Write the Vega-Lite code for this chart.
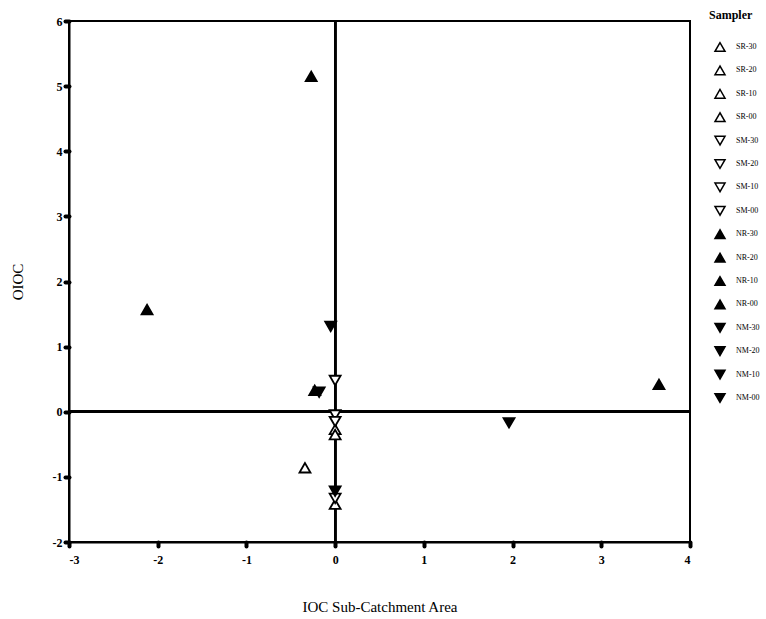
{
  "$schema": "https://vega.github.io/schema/vega-lite/v6.json",
  "autosize": {"type": "none"},
  "padding": {"left": 69, "top": 21, "right": 76, "bottom": 77},
  "width": 621,
  "height": 521,
  "background": "white",
  "config": {
    "font": "Liberation Serif",
    "view": {"stroke": "black", "strokeWidth": 2},
    "axis": {
      "grid": false,
      "domainColor": "black",
      "domainWidth": 2,
      "tickColor": "black",
      "tickWidth": 4,
      "tickSize": 4,
      "tickCap": "round",
      "labelFont": "Liberation Serif",
      "labelFontWeight": "bold",
      "labelFontSize": 12,
      "labelColor": "black",
      "labelExpr": "toString(datum.value)",
      "titleFont": "Liberation Serif",
      "titleFontWeight": "normal",
      "titleFontSize": 15,
      "titleColor": "black"
    }
  },
  "data": {
    "values": [
      {"x": -0.34, "y": -0.86, "Sampler": "SR-30"},
      {"x": 0, "y": -0.27, "Sampler": "SR-20"},
      {"x": 0, "y": -0.35, "Sampler": "SR-10"},
      {"x": 0, "y": -1.42, "Sampler": "SR-00"},
      {"x": 0, "y": 0.48, "Sampler": "SM-30"},
      {"x": 0, "y": -0.05, "Sampler": "SM-20"},
      {"x": 0, "y": -0.15, "Sampler": "SM-10"},
      {"x": 0, "y": -1.33, "Sampler": "SM-00"},
      {"x": -0.27, "y": 5.15, "Sampler": "NR-30"},
      {"x": -2.12, "y": 1.57, "Sampler": "NR-20"},
      {"x": -0.23, "y": 0.33, "Sampler": "NR-10"},
      {"x": 3.65, "y": 0.42, "Sampler": "NR-00"},
      {"x": -0.05, "y": 1.31, "Sampler": "NM-30"},
      {"x": -0.18, "y": 0.3, "Sampler": "NM-20"},
      {"x": 1.96, "y": -0.17, "Sampler": "NM-10"},
      {"x": 0, "y": -1.22, "Sampler": "NM-00"}
    ]
  },
  "layer": [
    {
      "mark": {"type": "rule", "color": "black", "strokeWidth": 2},
      "encoding": {"x": {"datum": 0, "type": "quantitative", "scale": {"domain": [-3, 4], "nice": false, "zero": false}}}
    },
    {
      "mark": {"type": "rule", "color": "black", "strokeWidth": 2},
      "encoding": {"y": {"datum": 0, "type": "quantitative", "scale": {"domain": [-2, 6], "nice": false, "zero": false}}}
    },
    {
      "mark": {"type": "point", "stroke": "black", "strokeWidth": 1.8, "opacity": 1, "size": 120},
      "encoding": {
        "x": {
          "field": "x", "type": "quantitative",
          "scale": {"domain": [-3, 4], "nice": false, "zero": false},
          "axis": {"title": "IOC Sub-Catchment Area", "values": [-3, -2, -1, 0, 1, 2, 3, 4], "labelPadding": 8, "titlePadding": 34}
        },
        "y": {
          "field": "y", "type": "quantitative",
          "scale": {"domain": [-2, 6], "nice": false, "zero": false},
          "axis": {"title": "OIOC", "values": [-2, -1, 0, 1, 2, 3, 4, 5, 6], "labelPadding": 3, "titlePadding": 27}
        },
        "shape": {
          "field": "Sampler", "type": "nominal",
          "scale": {
            "domain": ["SR-30", "SR-20", "SR-10", "SR-00", "SM-30", "SM-20", "SM-10", "SM-00", "NR-30", "NR-20", "NR-10", "NR-00", "NM-30", "NM-20", "NM-10", "NM-00"],
            "range": ["triangle-up", "triangle-up", "triangle-up", "triangle-up", "triangle-down", "triangle-down", "triangle-down", "triangle-down", "triangle-up", "triangle-up", "triangle-up", "triangle-up", "triangle-down", "triangle-down", "triangle-down", "triangle-down"]
          },
          "legend": {
            "orient": "none", "legendX": 640, "legendY": -11,
            "title": "Sampler", "titleFont": "Liberation Serif", "titleFontSize": 12, "titleFontWeight": "bold", "titleColor": "black",
            "titlePadding": 19,
            "labelFont": "Liberation Serif", "labelFontSize": 8, "labelColor": "black", "labelOffset": 10,
            "symbolSize": 100,
            "rowPadding": 7.4, "symbolOffset": 5,
            "encode": {"symbols": {"update": {"stroke": {"value": "black"}, "strokeWidth": {"value": 1.8}}}}
          }
        },
        "fill": {
          "field": "Sampler", "type": "nominal",
          "scale": {
            "domain": ["SR-30", "SR-20", "SR-10", "SR-00", "SM-30", "SM-20", "SM-10", "SM-00", "NR-30", "NR-20", "NR-10", "NR-00", "NM-30", "NM-20", "NM-10", "NM-00"],
            "range": ["white", "white", "white", "white", "white", "white", "white", "white", "black", "black", "black", "black", "black", "black", "black", "black"]
          },
          "legend": {
            "orient": "none", "legendX": 640, "legendY": -11,
            "title": "Sampler", "titleFont": "Liberation Serif", "titleFontSize": 12, "titleFontWeight": "bold", "titleColor": "black",
            "titlePadding": 19,
            "labelFont": "Liberation Serif", "labelFontSize": 8, "labelColor": "black", "labelOffset": 10,
            "symbolSize": 100,
            "rowPadding": 7.4, "symbolOffset": 5,
            "encode": {"symbols": {"update": {"stroke": {"value": "black"}, "strokeWidth": {"value": 1.8}}}}
          }
        }
      }
    }
  ]
}
